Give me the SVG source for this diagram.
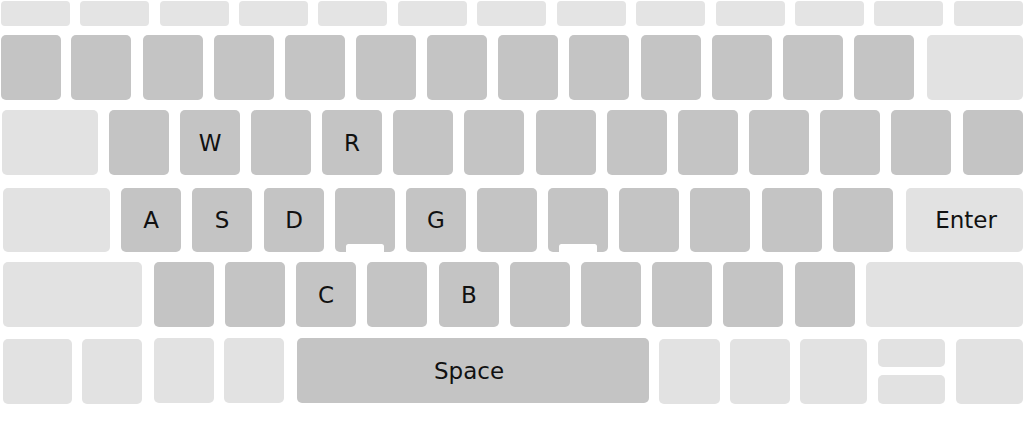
<svg xmlns="http://www.w3.org/2000/svg" width="1024" height="422" viewBox="0 0 1024 422">
<style>
.d{fill:#c4c4c4}
.l{fill:#e2e2e2}
.f{fill:#e4e4e4}
.n{fill:#ffffff}
text{font-family:"DejaVu Sans",Verdana,sans-serif;font-size:23px;fill:#111111;text-anchor:middle}
</style>
<rect width="1024" height="422" fill="#ffffff"/>
<g id="row-fn">
<rect class="f" x="1" y="1" width="69" height="25" rx="4"/>
<rect class="f" x="80" y="1" width="69" height="25" rx="4"/>
<rect class="f" x="160" y="1" width="69" height="25" rx="4"/>
<rect class="f" x="239" y="1" width="69" height="25" rx="4"/>
<rect class="f" x="318" y="1" width="69" height="25" rx="4"/>
<rect class="f" x="398" y="1" width="69" height="25" rx="4"/>
<rect class="f" x="477" y="1" width="69" height="25" rx="4"/>
<rect class="f" x="557" y="1" width="69" height="25" rx="4"/>
<rect class="f" x="636" y="1" width="69" height="25" rx="4"/>
<rect class="f" x="716" y="1" width="69" height="25" rx="4"/>
<rect class="f" x="795" y="1" width="69" height="25" rx="4"/>
<rect class="f" x="874" y="1" width="69" height="25" rx="4"/>
<rect class="f" x="954" y="1" width="69" height="25" rx="4"/>
</g>
<g id="row-num">
<rect class="d" x="1" y="35" width="60" height="65" rx="5"/>
<rect class="d" x="71" y="35" width="60" height="65" rx="5"/>
<rect class="d" x="143" y="35" width="60" height="65" rx="5"/>
<rect class="d" x="214" y="35" width="60" height="65" rx="5"/>
<rect class="d" x="285" y="35" width="60" height="65" rx="5"/>
<rect class="d" x="356" y="35" width="60" height="65" rx="5"/>
<rect class="d" x="427" y="35" width="60" height="65" rx="5"/>
<rect class="d" x="498" y="35" width="60" height="65" rx="5"/>
<rect class="d" x="569" y="35" width="60" height="65" rx="5"/>
<rect class="d" x="641" y="35" width="60" height="65" rx="5"/>
<rect class="d" x="712" y="35" width="60" height="65" rx="5"/>
<rect class="d" x="783" y="35" width="60" height="65" rx="5"/>
<rect class="d" x="854" y="35" width="60" height="65" rx="5"/>
<rect class="l" x="927" y="35" width="96" height="65" rx="5"/>
</g>
<g id="row-qwerty">
<rect class="l" x="2" y="110" width="96" height="65" rx="5"/>
<rect class="d" x="109" y="110" width="60" height="65" rx="5"/>
<g id="key-w"><rect class="d" x="180" y="110" width="60" height="65" rx="5"/><text x="210" y="151">W</text></g>
<rect class="d" x="251" y="110" width="60" height="65" rx="5"/>
<g id="key-r"><rect class="d" x="322" y="110" width="60" height="65" rx="5"/><text x="352" y="151">R</text></g>
<rect class="d" x="393" y="110" width="60" height="65" rx="5"/>
<rect class="d" x="464" y="110" width="60" height="65" rx="5"/>
<rect class="d" x="536" y="110" width="60" height="65" rx="5"/>
<rect class="d" x="607" y="110" width="60" height="65" rx="5"/>
<rect class="d" x="678" y="110" width="60" height="65" rx="5"/>
<rect class="d" x="749" y="110" width="60" height="65" rx="5"/>
<rect class="d" x="820" y="110" width="60" height="65" rx="5"/>
<rect class="d" x="891" y="110" width="60" height="65" rx="5"/>
<rect class="d" x="963" y="110" width="60" height="65" rx="5"/>
</g>
<g id="row-home">
<rect class="l" x="3" y="188" width="107" height="64" rx="5"/>
<g id="key-a"><rect class="d" x="121" y="188" width="60" height="64" rx="5"/><text x="151" y="228">A</text></g>
<g id="key-s"><rect class="d" x="192" y="188" width="60" height="64" rx="5"/><text x="222" y="228">S</text></g>
<g id="key-d"><rect class="d" x="264" y="188" width="60" height="64" rx="5"/><text x="294" y="228">D</text></g>
<g id="key-f"><rect class="d" x="335" y="188" width="60" height="64" rx="5"/><rect class="n" x="346" y="244" width="38" height="12" rx="2.5"/></g>
<g id="key-g"><rect class="d" x="406" y="188" width="60" height="64" rx="5"/><text x="436" y="228">G</text></g>
<rect class="d" x="477" y="188" width="60" height="64" rx="5"/>
<g id="key-j"><rect class="d" x="548" y="188" width="60" height="64" rx="5"/><rect class="n" x="559" y="244" width="38" height="12" rx="2.5"/></g>
<rect class="d" x="619" y="188" width="60" height="64" rx="5"/>
<rect class="d" x="690" y="188" width="60" height="64" rx="5"/>
<rect class="d" x="762" y="188" width="60" height="64" rx="5"/>
<rect class="d" x="833" y="188" width="60" height="64" rx="5"/>
<g id="key-enter"><rect class="l" x="906" y="188" width="117" height="64" rx="5"/><text x="966" y="228">Enter</text></g>
</g>
<g id="row-shift">
<rect class="l" x="3" y="262" width="139" height="65" rx="5"/>
<rect class="d" x="154" y="262" width="60" height="65" rx="5"/>
<rect class="d" x="225" y="262" width="60" height="65" rx="5"/>
<g id="key-c"><rect class="d" x="296" y="262" width="60" height="65" rx="5"/><text x="326" y="303">C</text></g>
<rect class="d" x="367" y="262" width="60" height="65" rx="5"/>
<g id="key-b"><rect class="d" x="439" y="262" width="60" height="65" rx="5"/><text x="469" y="303">B</text></g>
<rect class="d" x="510" y="262" width="60" height="65" rx="5"/>
<rect class="d" x="581" y="262" width="60" height="65" rx="5"/>
<rect class="d" x="652" y="262" width="60" height="65" rx="5"/>
<rect class="d" x="723" y="262" width="60" height="65" rx="5"/>
<rect class="d" x="795" y="262" width="60" height="65" rx="5"/>
<rect class="l" x="866" y="262" width="157" height="65" rx="5"/>
</g>
<g id="row-bottom">
<rect class="l" x="3" y="339" width="69" height="65" rx="5"/>
<rect class="l" x="82" y="339" width="60" height="65" rx="5"/>
<rect class="l" x="154" y="338" width="60" height="65" rx="5"/>
<rect class="l" x="224" y="338" width="60" height="65" rx="5"/>
<g id="key-space"><rect class="d" x="297" y="338" width="352" height="65" rx="5"/><text x="469" y="379">Space</text></g>
<rect class="l" x="659" y="339" width="61" height="65" rx="5"/>
<rect class="l" x="730" y="339" width="60" height="65" rx="5"/>
<rect class="l" x="800" y="339" width="67" height="65" rx="5"/>
<rect class="l" x="878" y="339" width="67" height="28" rx="5"/>
<rect class="l" x="878" y="375" width="67" height="29" rx="5"/>
<rect class="l" x="956" y="339" width="67" height="65" rx="5"/>
</g>
<g id="connectors"/>
</svg>
